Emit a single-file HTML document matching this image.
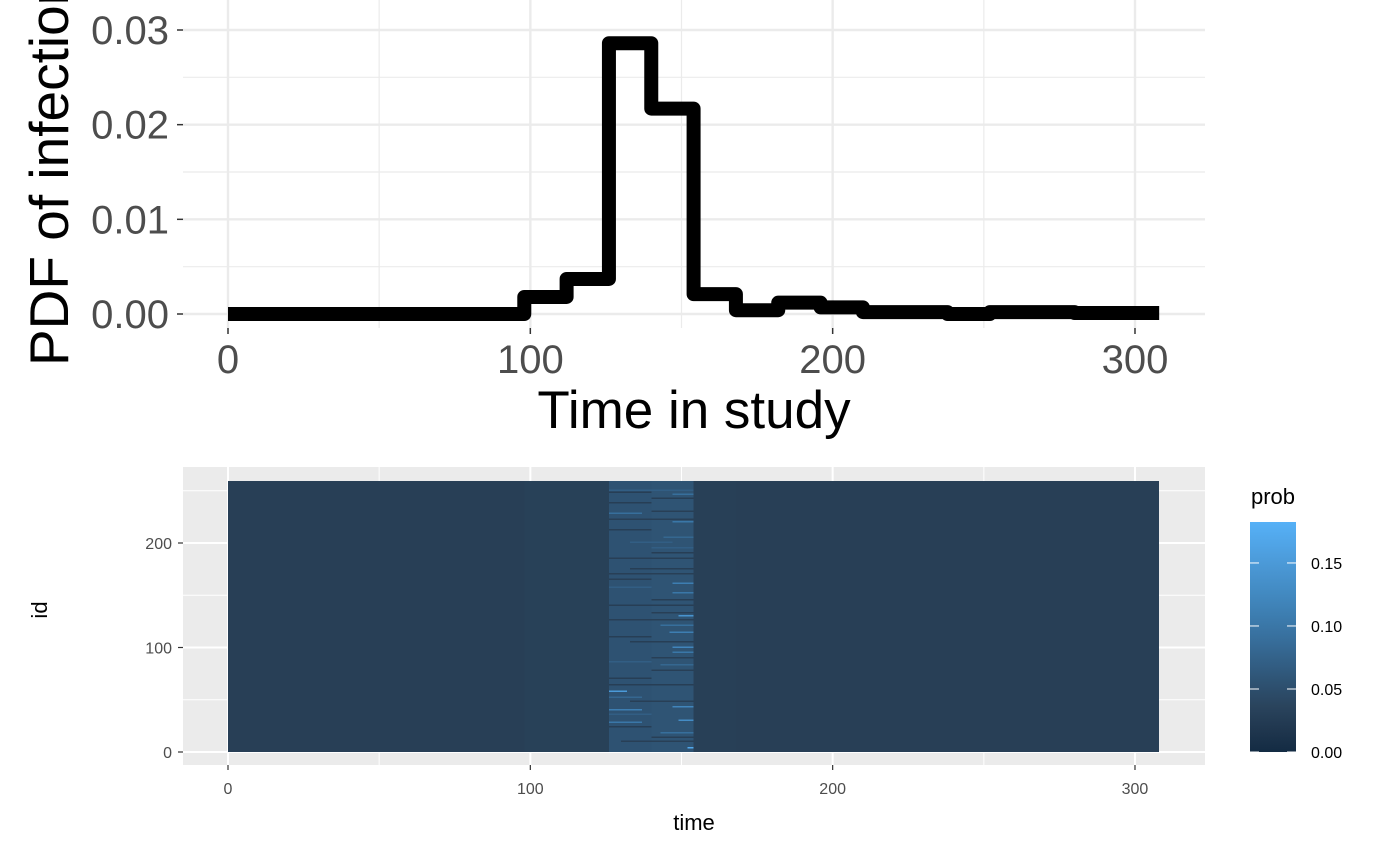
<!DOCTYPE html>
<html><head><meta charset="utf-8"><style>
html,body{margin:0;padding:0;background:#fff;}
svg{display:block;font-family:"Liberation Sans",sans-serif;}
</style></head><body>
<svg id="chart" width="1400" height="865" viewBox="0 0 1400 865"></svg>
<script>
// ---- top panel data ----
const stepStarts = [0, 98, 112, 126, 140, 154, 168, 182, 196, 210, 224, 238, 252, 266, 280, 294];
const stepValues = [0, 0.0018, 0.0037, 0.0286, 0.0217, 0.0021, 0.0004, 0.0012, 0.0007, 0.0002, 0.0002, 0.0000, 0.0002, 0.0002, 0.0001, 0.0001];
const stepEnd = 308;
const topXTicks = [0, 100, 200, 300];
const topYTicks = [0, 0.01, 0.02, 0.03];
const topYTickLabels = ["0.00", "0.01", "0.02", "0.03"];
// ---- heatmap data ----
const binStarts = [0, 98, 112, 126, 140, 154, 168];
const binEnds = [98, 112, 126, 140, 154, 168, 308];
const binValues = [0.030, 0.032, 0.032, 0.055, 0.057, 0.031, 0.030];
const nIds = 259;
const stripeIds = [246, 228, 220, 205, 195, 161, 152, 130, 121, 114, 100, 95, 83, 58, 52, 43, 40, 30, 28, 18, 4, 248, 238, 230, 212, 185, 175, 165, 140, 133, 110, 90, 70, 48, 24, 10, 250, 242, 222, 200, 190, 170, 157, 145, 126, 105, 86, 78, 64, 36, 14];
const stripeStart = [147, 126, 147, 144, 140, 147, 147, 149, 143, 146, 147, 147, 143, 126, 126, 147, 126, 149, 126, 143, 152, 126, 126, 140, 126, 126, 133, 126, 126, 140, 126, 140, 126, 133, 126, 130, 126, 140, 126, 133, 140, 126, 126, 140, 126, 133, 126, 140, 126, 126, 140];
const stripeEnd = [154, 137, 154, 154, 154, 154, 154, 154, 154, 154, 154, 154, 154, 132, 137, 154, 137, 154, 137, 154, 154, 140, 140, 154, 140, 154, 154, 140, 154, 154, 140, 154, 140, 154, 140, 154, 154, 154, 154, 147, 154, 154, 140, 154, 154, 154, 140, 154, 154, 140, 154];
const stripeValues = [0.09, 0.09, 0.10, 0.08, 0.07, 0.11, 0.10, 0.14, 0.09, 0.11, 0.12, 0.10, 0.08, 0.15, 0.08, 0.12, 0.11, 0.13, 0.10, 0.09, 0.17, 0.028, 0.028, 0.03, 0.028, 0.03, 0.028, 0.03, 0.028, 0.03, 0.028, 0.03, 0.028, 0.03, 0.028, 0.03, 0.07, 0.028, 0.03, 0.07, 0.028, 0.03, 0.07, 0.028, 0.03, 0.028, 0.07, 0.03, 0.028, 0.07, 0.03];
const legendTicks = [0, 0.05, 0.10, 0.15];
const legendTickLabels = ["0.00", "0.05", "0.10", "0.15"];
const legendMax = 0.1825;
const colorStopVals = [0, 0.03, 0.055, 0.1, 0.1825];
const colorStopCols = [[0x13,0x2B,0x43],[0x28,0x3F,0x56],[0x2E,0x52,0x72],[0x3A,0x77,0xA8],[0x56,0xB1,0xF7]];

const NS = "http://www.w3.org/2000/svg";
const svgEl = document.getElementById("chart");
function mk(tag, attrs, parent, text) {
  const e = document.createElementNS(NS, tag);
  for (const k in attrs) e.setAttribute(k, attrs[k]);
  if (text !== undefined) e.textContent = text;
  (parent || svgEl).appendChild(e);
  return e;
}
const xS = t => 228 + t * 3.0233;
const yTop = v => 314 - v * (284 / 0.03);
const rowH = 271 / nIds;
const yId = id => 752 - id * (104.5 / 100);

function col(v){
  v = Math.max(0, Math.min(legendMax, v));
  let i = 0;
  while (i < colorStopVals.length - 2 && v > colorStopVals[i+1]) i++;
  const t = (v - colorStopVals[i]) / (colorStopVals[i+1] - colorStopVals[i]);
  const a = colorStopCols[i], b = colorStopCols[i+1];
  return `rgb(${Math.round(a[0]+(b[0]-a[0])*t)},${Math.round(a[1]+(b[1]-a[1])*t)},${Math.round(a[2]+(b[2]-a[2])*t)})`;
}

// ================= TOP PANEL =================
const topPanel = mk("g", {}, svgEl);


const tgrid = mk("g", {}, topPanel);


[50,150,250].forEach(t => mk("line",{x1:xS(t),x2:xS(t),y1:0,y2:328,stroke:"#EBEBEB","stroke-width":1.2},tgrid));
[0.005,0.015,0.025].forEach(v => mk("line",{x1:183,x2:1205,y1:yTop(v),y2:yTop(v),stroke:"#EBEBEB","stroke-width":1.2},tgrid));
topXTicks.forEach(t => mk("line",{x1:xS(t),x2:xS(t),y1:0,y2:328,stroke:"#EBEBEB","stroke-width":2.4},tgrid));
topYTicks.forEach(v => mk("line",{x1:183,x2:1205,y1:yTop(v),y2:yTop(v),stroke:"#EBEBEB","stroke-width":2.4},tgrid));
let pathD = "";
stepStarts.forEach((s,i) => {
  const e = i < stepStarts.length-1 ? stepStarts[i+1] : stepEnd;
  pathD += (i===0?"M":"L") + xS(s) + "," + yTop(stepValues[i]) + "L" + xS(e) + "," + yTop(stepValues[i]);
});
const pdfLine = mk("path",{d:pathD,fill:"none",stroke:"#000","stroke-width":14,"stroke-linejoin":"round"},topPanel);


topXTicks.forEach(t => {
  mk("line",{x1:xS(t),x2:xS(t),y1:328,y2:334,stroke:"#333","stroke-width":1.5},topPanel);
  const l = mk("text",{x:xS(t),y:373,"text-anchor":"middle","font-size":40,fill:"#4D4D4D"},topPanel,String(t));
  
  
});
topYTicks.forEach((v,i) => {
  mk("line",{x1:177,x2:183,y1:yTop(v),y2:yTop(v),stroke:"#333","stroke-width":1.5},topPanel);
  const l = mk("text",{x:169,y:yTop(v)+14,"text-anchor":"end","font-size":40,fill:"#4D4D4D"},topPanel,topYTickLabels[i]);
  
  
});
const xt = mk("text",{x:694,y:428,"text-anchor":"middle","font-size":53,fill:"#000"},topPanel,"Time in study");


const yt = mk("text",{x:0,y:0,"text-anchor":"start","font-size":55,fill:"#000",transform:"translate(68,366) rotate(-90)"},topPanel,"PDF of infection time");



// ================= BOTTOM PANEL =================
const botPanel = mk("g", {}, svgEl);


const bgRect = mk("rect",{x:183,y:467,width:1022,height:298,fill:"#EBEBEB"},botPanel);


const bgrid = mk("g", {}, botPanel);


[50,150,250].forEach(t => mk("line",{x1:xS(t),x2:xS(t),y1:467,y2:765,stroke:"#fff","stroke-width":1},bgrid));
[50,150,250].forEach(v => mk("line",{x1:183,x2:1205,y1:yId(v),y2:yId(v),stroke:"#fff","stroke-width":1},bgrid));
topXTicks.forEach(t => mk("line",{x1:xS(t),x2:xS(t),y1:467,y2:765,stroke:"#fff","stroke-width":2},bgrid));
[0,100,200].forEach(v => mk("line",{x1:183,x2:1205,y1:yId(v),y2:yId(v),stroke:"#fff","stroke-width":2},bgrid));
const tiles = mk("g", {"shape-rendering":"crispEdges"}, botPanel);


binStarts.forEach((s,i) => {
  const r = mk("rect",{x:xS(s),y:752-nIds*rowH,width:xS(binEnds[i])-xS(s),height:nIds*rowH,fill:col(binValues[i])},tiles);
  
  
});
stripeIds.forEach((id,i) => {
  const r = mk("rect",{x:xS(stripeStart[i]),y:752-(id+1)*rowH,width:xS(stripeEnd[i])-xS(stripeStart[i]),height:Math.max(1.5,rowH),fill:col(stripeValues[i])},tiles);
  
  
});
topXTicks.forEach(t => {
  mk("line",{x1:xS(t),x2:xS(t),y1:765,y2:770,stroke:"#333","stroke-width":1.2},botPanel);
  const l = mk("text",{x:xS(t),y:794,"text-anchor":"middle","font-size":16,fill:"#4D4D4D"},botPanel,String(t));
  
  
});
[0,100,200].forEach(v => {
  mk("line",{x1:178,x2:183,y1:yId(v),y2:yId(v),stroke:"#333","stroke-width":1.2},botPanel);
  const l = mk("text",{x:172,y:yId(v)+6,"text-anchor":"end","font-size":16,fill:"#4D4D4D"},botPanel,String(v));
  
  
});
const bxt = mk("text",{x:694,y:830,"text-anchor":"middle","font-size":22,fill:"#000"},botPanel,"time");


const byt = mk("text",{x:0,y:0,"text-anchor":"middle","font-size":22,fill:"#000",transform:"translate(47,610) rotate(-90)"},botPanel,"id");



// ================= LEGEND =================
const legendG = mk("g", {}, svgEl);


const lt = mk("text",{x:1251,y:504,"font-size":22,fill:"#000"},legendG,"prob");


const defsEl = mk("defs",{},svgEl);
const grad = mk("linearGradient",{id:"lg",x1:0,y1:1,x2:0,y2:0},defsEl);
for (let k=0;k<=10;k++) mk("stop",{offset:k/10,"stop-color":col(legendMax*k/10)},grad);
const colorBar = mk("rect",{x:1250,y:522,width:46,height:230,fill:"url(#lg)"},legendG);


const yL = v => 752 - v * (230 / legendMax);
legendTicks.forEach((v,i) => {
  mk("line",{x1:1250,x2:1259,y1:yL(v),y2:yL(v),stroke:"#fff","stroke-width":1},legendG);
  mk("line",{x1:1287,x2:1296,y1:yL(v),y2:yL(v),stroke:"#fff","stroke-width":1},legendG);
  const l = mk("text",{x:1311,y:yL(v)+6,"font-size":16,fill:"#000"},legendG,legendTickLabels[i]);
  
  
});
</script>
</body></html>
